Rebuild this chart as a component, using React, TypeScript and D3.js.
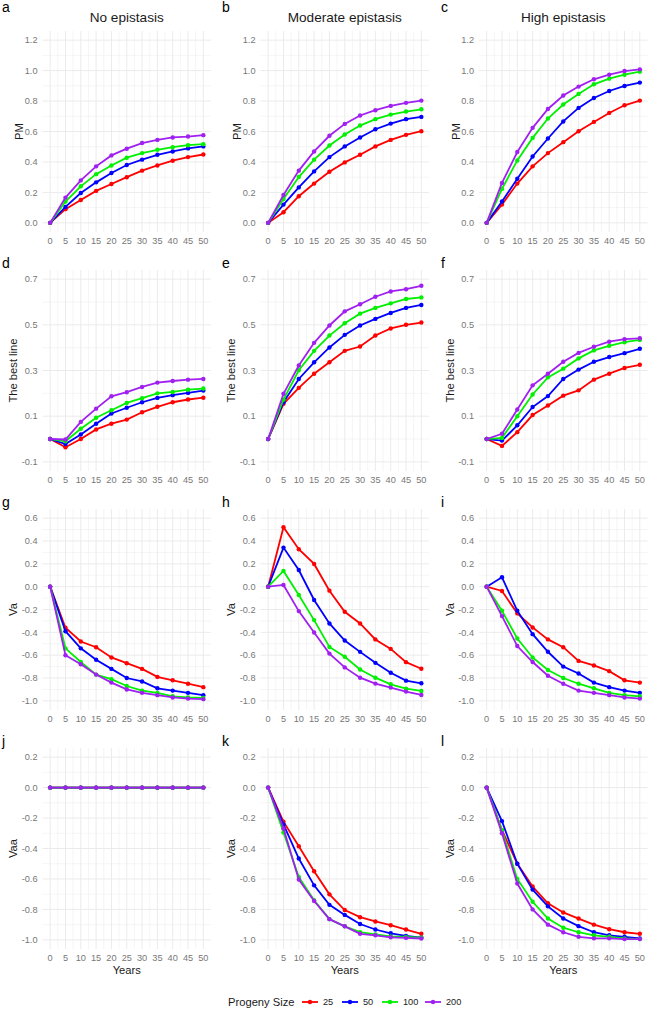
import React from "react";
import * as d3 from "d3";

const years = [0, 5, 10, 15, 20, 25, 30, 35, 40, 45, 50];
const sizes = ["25", "50", "100", "200"];
const colors = ["#FF0000", "#0000FF", "#00F000", "#A020F0"];
const colTitles = ["No epistasis", "Moderate epistasis", "High epistasis"];
const rowTitles = ["PM", "The best line", "Va", "Vaa"];
const letters = ["a", "b", "c", "d", "e", "f", "g", "h", "i", "j", "k", "l"];

// series order inside each panel: 25, 50, 100, 200
const pmNone = [
  [0, 0.09, 0.15, 0.21, 0.255, 0.3, 0.343, 0.377, 0.408, 0.432, 0.449],
  [0, 0.105, 0.196, 0.266, 0.327, 0.38, 0.415, 0.447, 0.469, 0.489, 0.502],
  [0, 0.14, 0.24, 0.32, 0.377, 0.428, 0.458, 0.48, 0.497, 0.51, 0.517],
  [0, 0.166, 0.279, 0.371, 0.443, 0.487, 0.524, 0.545, 0.561, 0.567, 0.576],
];
const pmModerate = [
  [0, 0.07, 0.175, 0.258, 0.336, 0.397, 0.447, 0.502, 0.545, 0.578, 0.602],
  [0, 0.12, 0.233, 0.338, 0.432, 0.502, 0.561, 0.615, 0.652, 0.681, 0.696],
  [0, 0.157, 0.301, 0.415, 0.508, 0.58, 0.639, 0.681, 0.711, 0.731, 0.746],
  [0, 0.183, 0.343, 0.469, 0.572, 0.65, 0.705, 0.74, 0.768, 0.788, 0.803],
];
const pmHigh = [
  [0, 0.12, 0.258, 0.371, 0.458, 0.53, 0.602, 0.663, 0.722, 0.772, 0.803],
  [0, 0.14, 0.29, 0.436, 0.554, 0.666, 0.755, 0.82, 0.866, 0.899, 0.921],
  [0, 0.223, 0.41, 0.558, 0.685, 0.777, 0.847, 0.91, 0.947, 0.973, 0.993],
  [0, 0.262, 0.465, 0.624, 0.748, 0.836, 0.895, 0.943, 0.973, 0.997, 1.008],
];
const bestNone = [
  [0, -0.036, 0.0, 0.042, 0.067, 0.085, 0.117, 0.141, 0.161, 0.173, 0.181],
  [0, -0.022, 0.02, 0.067, 0.112, 0.137, 0.161, 0.18, 0.192, 0.202, 0.212],
  [0, -0.01, 0.045, 0.093, 0.126, 0.158, 0.179, 0.2, 0.206, 0.216, 0.221],
  [0, -0.002, 0.075, 0.133, 0.187, 0.205, 0.228, 0.247, 0.254, 0.26, 0.263],
];
const bestModerate = [
  [0, 0.154, 0.224, 0.286, 0.336, 0.386, 0.405, 0.453, 0.484, 0.5, 0.51],
  [0, 0.161, 0.263, 0.336, 0.401, 0.456, 0.497, 0.526, 0.552, 0.574, 0.587],
  [0, 0.173, 0.301, 0.386, 0.453, 0.507, 0.549, 0.574, 0.594, 0.613, 0.62],
  [0, 0.198, 0.322, 0.421, 0.497, 0.559, 0.59, 0.623, 0.646, 0.656, 0.671],
];
const bestHigh = [
  [0, -0.03, 0.03, 0.105, 0.147, 0.19, 0.213, 0.26, 0.286, 0.311, 0.325],
  [0, -0.007, 0.06, 0.14, 0.188, 0.263, 0.304, 0.338, 0.359, 0.376, 0.395],
  [0, 0.005, 0.1, 0.195, 0.27, 0.308, 0.353, 0.388, 0.408, 0.424, 0.434],
  [0, 0.023, 0.129, 0.235, 0.286, 0.338, 0.377, 0.404, 0.426, 0.437, 0.441],
];
const vaNone = [
  [0, -0.36, -0.48, -0.53, -0.62, -0.67, -0.72, -0.79, -0.82, -0.85, -0.88],
  [0, -0.39, -0.54, -0.64, -0.72, -0.8, -0.83, -0.89, -0.91, -0.93, -0.95],
  [0, -0.54, -0.66, -0.77, -0.81, -0.87, -0.91, -0.93, -0.96, -0.97, -0.975],
  [0, -0.6, -0.68, -0.77, -0.84, -0.9, -0.93, -0.95, -0.97, -0.98, -0.985],
];
const vaModerate = [
  [0, 0.521, 0.328, 0.199, -0.035, -0.22, -0.322, -0.462, -0.545, -0.661, -0.719],
  [0, 0.342, 0.146, -0.117, -0.322, -0.472, -0.571, -0.667, -0.754, -0.823, -0.846],
  [0, 0.138, -0.073, -0.293, -0.528, -0.614, -0.725, -0.797, -0.855, -0.893, -0.913],
  [0, 0.015, -0.214, -0.401, -0.586, -0.707, -0.797, -0.849, -0.884, -0.919, -0.948],
];
const vaHigh = [
  [0, -0.038, -0.234, -0.357, -0.462, -0.53, -0.65, -0.69, -0.74, -0.82, -0.84],
  [0, 0.082, -0.211, -0.416, -0.57, -0.7, -0.76, -0.84, -0.88, -0.91, -0.93],
  [0, -0.211, -0.454, -0.62, -0.73, -0.8, -0.85, -0.89, -0.93, -0.95, -0.96],
  [0, -0.258, -0.52, -0.66, -0.78, -0.85, -0.91, -0.93, -0.95, -0.97, -0.98],
];
const vaaNone = [
  [0, 0, 0, 0, 0, 0, 0, 0, 0, 0, 0],
  [0, 0, 0, 0, 0, 0, 0, 0, 0, 0, 0],
  [0, 0, 0, 0, 0, 0, 0, 0, 0, 0, 0],
  [0, 0, 0, 0, 0, 0, 0, 0, 0, 0, 0],
];
const vaaModerate = [
  [0, -0.224, -0.385, -0.549, -0.701, -0.804, -0.851, -0.879, -0.904, -0.932, -0.96],
  [0, -0.242, -0.466, -0.642, -0.77, -0.836, -0.896, -0.932, -0.957, -0.974, -0.985],
  [0, -0.295, -0.587, -0.74, -0.864, -0.911, -0.949, -0.964, -0.977, -0.981, -0.985],
  [0, -0.268, -0.604, -0.745, -0.864, -0.911, -0.96, -0.97, -0.983, -0.987, -0.991],
];
const vaaHigh = [
  [0, -0.28, -0.5, -0.65, -0.76, -0.82, -0.86, -0.9, -0.93, -0.95, -0.96],
  [0, -0.22, -0.5, -0.67, -0.78, -0.86, -0.91, -0.95, -0.97, -0.98, -0.99],
  [0, -0.28, -0.6, -0.75, -0.86, -0.92, -0.95, -0.97, -0.98, -0.99, -0.995],
  [0, -0.3, -0.63, -0.8, -0.9, -0.95, -0.98, -0.99, -0.99, -0.995, -0.995],
];

const panelData = [
  [pmNone, pmModerate, pmHigh],
  [bestNone, bestModerate, bestHigh],
  [vaNone, vaModerate, vaHigh],
  [vaaNone, vaaModerate, vaaHigh],
];

const yTicks = [
  [0, 0.2, 0.4, 0.6, 0.8, 1.0, 1.2],
  [-0.1, 0.1, 0.3, 0.5, 0.7],
  [-1.0, -0.8, -0.6, -0.4, -0.2, 0.0, 0.2, 0.4, 0.6],
  [-1.0, -0.8, -0.6, -0.4, -0.2, 0.0, 0.2],
];

const width = 649;
const height = 1010;
const colLeft = [42.5, 260.5, 479];
const panelW = 168.5;
const rowTop = [31, 270, 509, 748];
const panelH = 201;
const font = "'Liberation Sans', Arial, sans-serif";

const fmt = (v: number) => {
  const s = v.toFixed(1);
  return s === "-0.0" ? "0.0" : s;
};

const Panel = ({ row, col }: { row: number; col: number }) => {
  const left = colLeft[col];
  const top = rowTop[row];
  const ticks = yTicks[row];
  const lo = ticks[0];
  const hi = ticks[ticks.length - 1];
  const pad = (hi - lo) * 0.05;
  const x = d3.scaleLinear().domain([-2.5, 52.5]).range([left, left + panelW]);
  const y = d3.scaleLinear().domain([lo - pad, hi + pad]).range([top + panelH, top]);
  const step = ticks[1] - ticks[0];
  const yMinor = ticks.slice(0, -1).map((t) => t + step / 2);
  const xMinor = years.slice(0, -1).map((t) => t + 2.5);
  const line = d3
    .line<number>()
    .x((_, i) => x(years[i]))
    .y((d) => y(d));
  const series = panelData[row][col];
  const idx = row * 3 + col;
  const yTitleX = left - (row === 0 ? 23 : 29);

  return (
    <g>
      {yMinor.map((t) => (
        <line key={"ym" + t} x1={left} x2={left + panelW} y1={y(t)} y2={y(t)} stroke="#EBEBEB" strokeWidth={0.5} />
      ))}
      {xMinor.map((t) => (
        <line key={"xm" + t} x1={x(t)} x2={x(t)} y1={top} y2={top + panelH} stroke="#EBEBEB" strokeWidth={0.5} />
      ))}
      {ticks.map((t) => (
        <line key={"y" + t} x1={left} x2={left + panelW} y1={y(t)} y2={y(t)} stroke="#EBEBEB" strokeWidth={1} />
      ))}
      {years.map((t) => (
        <line key={"x" + t} x1={x(t)} x2={x(t)} y1={top} y2={top + panelH} stroke="#EBEBEB" strokeWidth={1} />
      ))}
      {ticks.map((t) => (
        <text key={"yl" + t} x={left - 5} y={y(t)} dy="0.35em" textAnchor="end" fontSize={9.2} fill="#777">
          {fmt(t)}
        </text>
      ))}
      {years.map((t) => (
        <text key={"xl" + t} x={x(t)} y={top + panelH + 9} dy="0.35em" textAnchor="middle" fontSize={9.2} fill="#777">
          {t}
        </text>
      ))}
      <text
        transform={`translate(${yTitleX},${top + panelH / 2}) rotate(-90)`}
        textAnchor="middle"
        dy="0.35em"
        fontSize={11.2}
        fill="#1a1a1a"
      >
        {rowTitles[row]}
      </text>
      {row === 0 && (
        <text x={left + panelW / 2} y={22} textAnchor="middle" fontSize={13.6} fill="#1a1a1a">
          {colTitles[col]}
        </text>
      )}
      {row === 3 && (
        <text x={left + panelW / 2} y={974} textAnchor="middle" fontSize={11.2} fill="#1a1a1a">
          Years
        </text>
      )}
      <text x={[2, 222, 441][col]} y={row === 0 ? 12 : top - 2} fontSize={14} fill="#000">
        {letters[idx]}
      </text>
      {series.map((s, si) => (
        <g key={si}>
          <path d={line(s) || ""} fill="none" stroke={colors[si]} strokeWidth={1.8} />
          {s.map((v, i) => (
            <circle key={i} cx={x(years[i])} cy={y(v)} r={2.2} fill={colors[si]} />
          ))}
        </g>
      ))}
    </g>
  );
};

const Legend = () => {
  const keyX = [302, 342, 382, 425];
  const ly = 1002;
  return (
    <g>
      <text x={228} y={ly} dy="0.35em" fontSize={11.2} fill="#1a1a1a">
        Progeny Size
      </text>
      {sizes.map((s, i) => (
        <g key={s}>
          <line x1={keyX[i]} x2={keyX[i] + 16} y1={ly} y2={ly} stroke={colors[i]} strokeWidth={1.8} />
          <circle cx={keyX[i] + 8} cy={ly} r={2.2} fill={colors[i]} />
          <text x={keyX[i] + 21} y={ly} dy="0.35em" fontSize={9.2} fill="#1a1a1a">
            {s}
          </text>
        </g>
      ))}
    </g>
  );
};

export default function App() {
  return (
    <svg width={width} height={height} style={{ position: "absolute", left: 0, top: 0, fontFamily: font }}>
      <rect width={width} height={height} fill="#fff" />
      {[0, 1, 2, 3].map((r) => [0, 1, 2].map((c) => <Panel key={r + "-" + c} row={r} col={c} />))}
      <Legend />
    </svg>
  );
}
